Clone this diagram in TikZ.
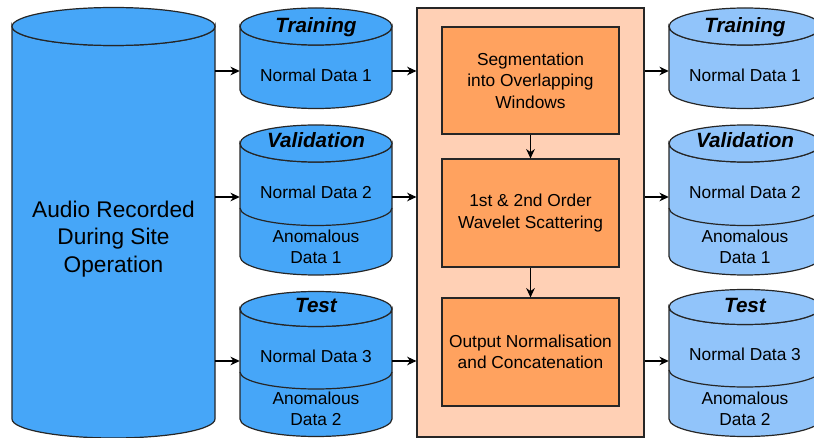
\documentclass[tikz,border=0pt]{standalone}
\usepackage{fontspec}
\setmainfont{Liberation Sans}
\usetikzlibrary{arrows.meta}
\definecolor{blueA}{HTML}{46A6F8}
\definecolor{blueB}{HTML}{91C4FA}
\definecolor{peach}{HTML}{FFD0B5}
\definecolor{orangeB}{HTML}{FFA25F}
\tikzset{
  outline/.style={draw=black!85, line width=0.9pt},
  arr/.style={-{Stealth[length=7pt,width=6.5pt]}, line width=0.8pt, black},
  procbox/.style={outline, fill=orangeB, inner sep=0pt, align=center,
     font=\fontsize{13}{16}\selectfont},
  datatxt/.style={align=center, font=\fontsize{13}{15.5}\selectfont},
  titletxt/.style={font=\fontsize{15.5}{18}\selectfont\bfseries\itshape},
  hold/.style={inner sep=0pt, draw=none}
}
% #1 cx, #2 top y, #3 bottom y, #4 rx, #5 ry, #6 fill
\newcommand{\mycyl}[6]{%
  \filldraw[outline, fill=#6] (#1-#4,#2) -- (#1-#4,#3)
     arc[start angle=180, end angle=0, x radius=#4, y radius=#5]
     -- (#1+#4,#2)
     arc[start angle=0, end angle=180, x radius=#4, y radius=#5] -- cycle;
  \filldraw[outline, fill=#6] (#1,#2) ellipse[x radius=#4, y radius=#5];
}
\newcommand{\mydiv}[4]{%
  \draw[outline] (#1-#3,#2) arc[start angle=180, end angle=0, x radius=#3, y radius=#4];
}
\begin{document}
\begin{tikzpicture}[x=0.75pt,y=-0.75pt]
\useasboundingbox (0,0) rectangle (814,438);
\clip (0,0) rectangle (814,438);

% big cylinder
\mycyl{113.5}{26.5}{419}{101.5}{19}{blueA}
\node[hold, minimum width=152.25pt, minimum height=323pt] (audio) at (113.5,222.5) {};
\node[align=center, font=\fontsize{17}{20.5}\selectfont] (audiotxt) at (113.5,239)
  {Audio Recorded\\During Site\\Operation};

% left cylinders
\mycyl{316}{26.5}{90}{76}{18.5}{blueA}
\node[hold, minimum width=114pt, minimum height=75pt] (trL) at (316,58) {};
\mycyl{316}{143.5}{256.5}{76}{18.5}{blueA}
\mydiv{316}{208}{76}{17.5}
\node[hold, minimum width=114pt, minimum height=112pt] (vaL) at (316,200) {};
\mycyl{316}{309}{419}{76}{17.5}{blueA}
\mydiv{316}{372}{76}{17}
\node[hold, minimum width=114pt, minimum height=108pt] (teL) at (316,365) {};

\node[titletxt] (trLt) at (316,27) {Training};
\node[datatxt] (trLn) at (316,75) {Normal Data 1};
\node[titletxt] (vaLt) at (316,140) {Validation};
\node[datatxt] (vaLn) at (316,192) {Normal Data 2};
\node[datatxt] (vaLa) at (316,247) {Anomalous\\Data 1};
\node[titletxt] (teLt) at (316,305) {Test};
\node[datatxt] (teLn) at (316,356) {Normal Data 3};
\node[datatxt] (teLa) at (316,409) {Anomalous\\Data 2};

% right cylinders
\mycyl{745}{26.5}{90}{76}{18.5}{blueB}
\node[hold, minimum width=114pt, minimum height=75pt] (trR) at (745,58) {};
\mycyl{745}{143.5}{256.5}{76}{18.5}{blueB}
\mydiv{745}{208}{76}{17.5}
\node[hold, minimum width=114pt, minimum height=112pt] (vaR) at (745,200) {};
\mycyl{745}{307}{419}{76}{17.5}{blueB}
\mydiv{745}{370}{76}{17}
\node[hold, minimum width=114pt, minimum height=108pt] (teR) at (745,365) {};

\node[titletxt] (trRt) at (745,27) {Training};
\node[datatxt] (trRn) at (745,75) {Normal Data 1};
\node[titletxt] (vaRt) at (745,140) {Validation};
\node[datatxt] (vaRn) at (745,192) {Normal Data 2};
\node[datatxt] (vaRa) at (745,247) {Anomalous\\Data 1};
\node[titletxt] (teRt) at (745,305) {Test};
\node[datatxt] (teRn) at (745,354) {Normal Data 3};
\node[datatxt] (teRa) at (745,409) {Anomalous\\Data 2};

% processing container
\node[outline, fill=peach, inner sep=0pt, minimum width=170.25pt, minimum height=321.75pt]
  (proc) at (530.5,222.5) {};
\node[procbox, minimum width=132.75pt, minimum height=80.25pt] (b1) at (530.5,80.5)
  {Segmentation\\into Overlapping\\Windows};
\node[procbox, minimum width=132.75pt, minimum height=81pt] (b2) at (530.5,213)
  {1st \& 2nd Order\\Wavelet Scattering};
\node[procbox, minimum width=132.75pt, minimum height=81pt] (b3) at (530.5,352)
  {Output Normalisation\\and Concatenation};
\draw[arr] (b1.south) -- (b2.north);
\draw[arr] (b2.south) -- (b3.north);

% arrow levels
\coordinate (y1) at (0,71);
\coordinate (y2) at (0,197);
\coordinate (y3) at (0,361);

\draw[arr] (audio.east |- y1) -- (trL.west |- y1);
\draw[arr] (audio.east |- y2) -- (vaL.west |- y2);
\draw[arr] (audio.east |- y3) -- (teL.west |- y3);
\draw[arr] (trL.east |- y1) -- (proc.west |- y1);
\draw[arr] (vaL.east |- y2) -- (proc.west |- y2);
\draw[arr] (teL.east |- y3) -- (proc.west |- y3);
\draw[arr] (proc.east |- y1) -- (trR.west |- y1);
\draw[arr] (proc.east |- y2) -- (vaR.west |- y2);
\draw[arr] (proc.east |- y3) -- (teR.west |- y3);
\end{tikzpicture}
\end{document}
